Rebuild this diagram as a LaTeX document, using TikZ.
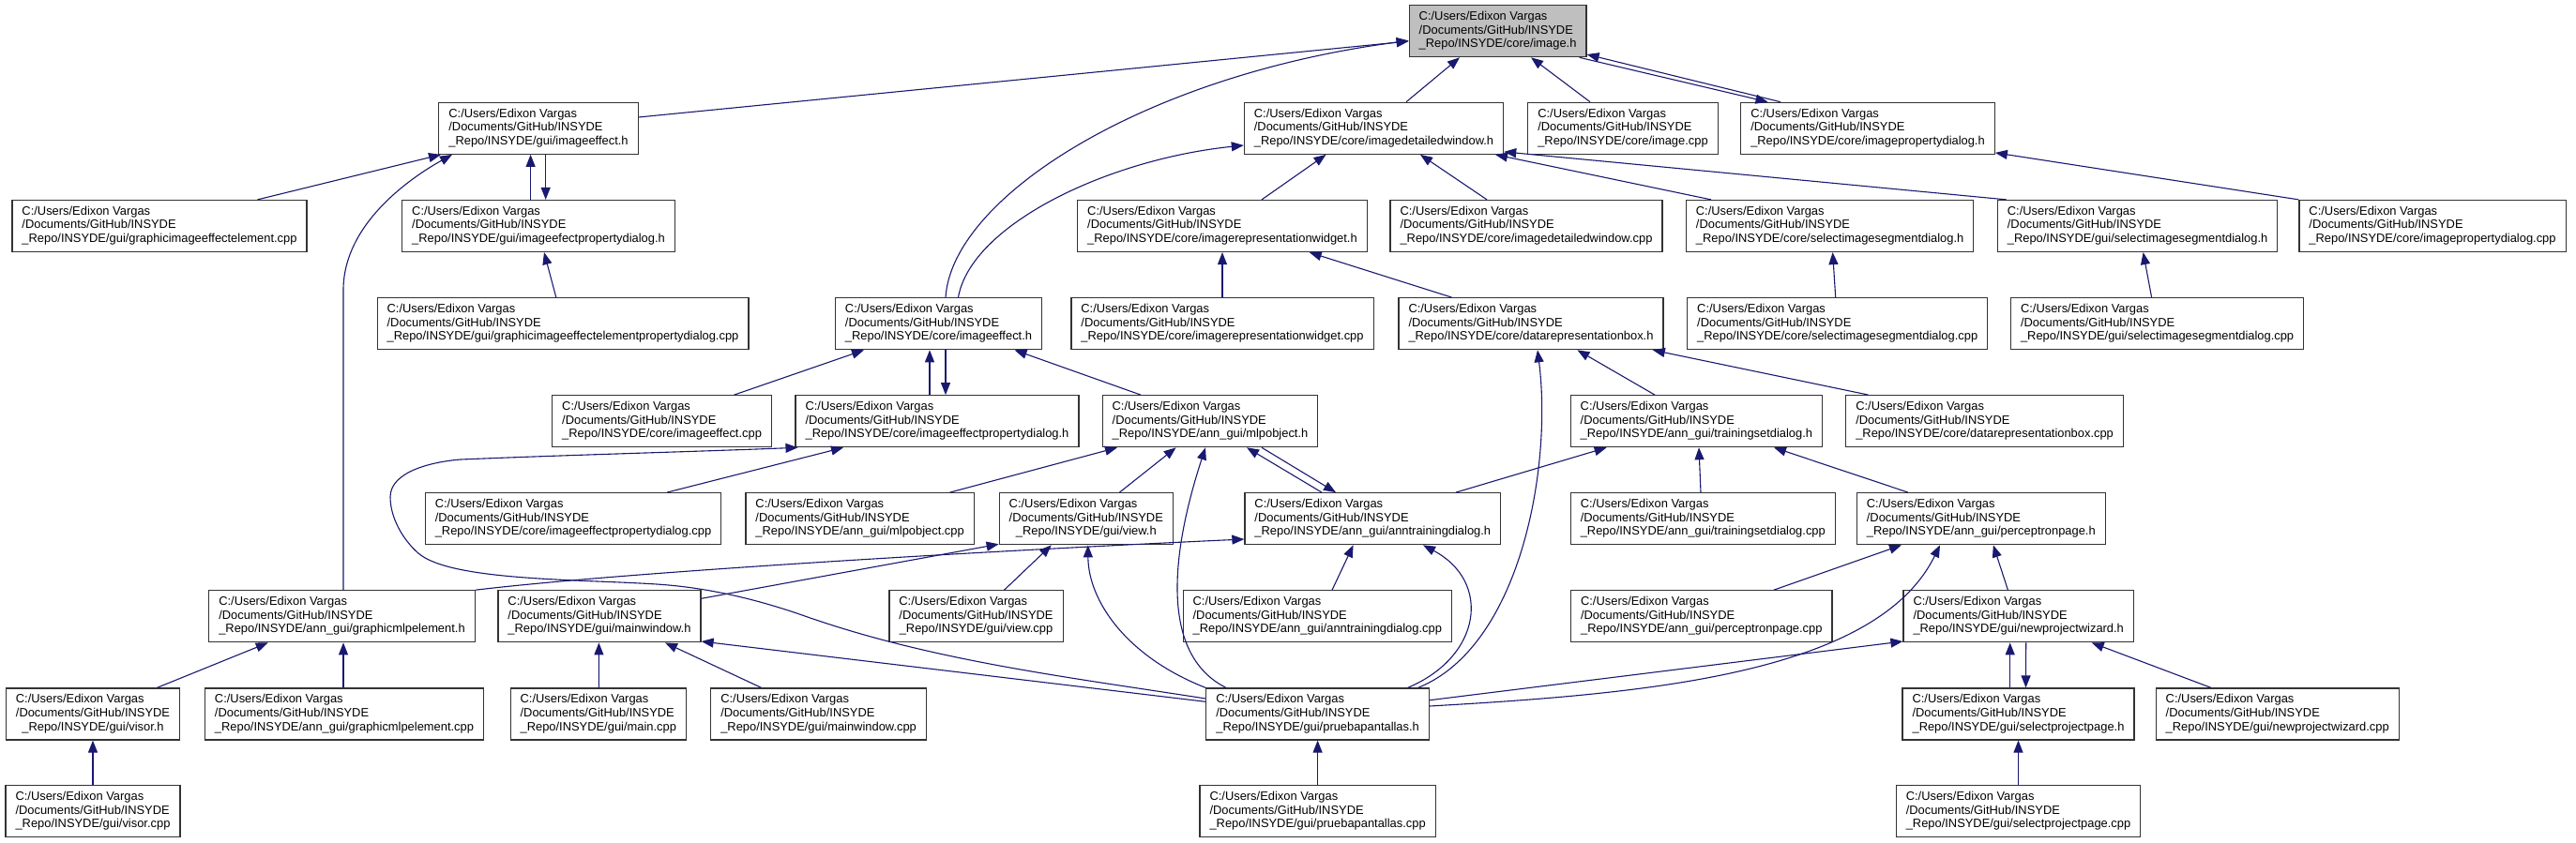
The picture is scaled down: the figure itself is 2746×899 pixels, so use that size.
\documentclass[tikz,border=0pt]{standalone}
\usepackage{fontspec}
\setmainfont{Liberation Sans}
\usetikzlibrary{arrows.meta}
\definecolor{edgeblue}{RGB}{25,25,112}
\definecolor{boxgray}{RGB}{191,191,191}
\newcommand\flab[1]{\begin{tabular}{@{}l@{}}C:/Users/Edixon Vargas\\/Documents/GitHub/INSYDE\\\multicolumn{1}{@{}c@{}}{\_Repo/INSYDE/#1}\end{tabular}}
\begin{document}
\begin{tikzpicture}[x=1pt,y=-1pt,
  fnode/.style={draw=black!80, line width=1.2pt, fill=white, rectangle, inner xsep=10.5pt, inner ysep=0pt, minimum height=55pt, font=\fontsize{12.9}{14.7}\selectfont},
  cur/.style={fnode, fill=boxgray},
  inc/.style={draw=edgeblue, line width=1.1pt, -{Triangle[length=13pt,width=10pt]}}]
\useasboundingbox[fill=white] (0,0) rectangle (2746,899);
% row A
\node[cur] (img) at (1596.6,33.2) {\flab{core/image.h}};
% row B
\node[fnode] (gieh) at (574,136.8) {\flab{gui/imageeffect.h}};
\node[fnode] (idwh) at (1464.5,136.8) {\flab{core/imagedetailedwindow.h}};
\node[fnode] (imgcpp) at (1730,136.8) {\flab{core/image.cpp}};
\node[fnode] (ipdh) at (1991,136.8) {\flab{core/imagepropertydialog.h}};
% row C
\node[fnode] (giee) at (170,241) {\flab{gui/graphicimageeffectelement.cpp}};
\node[fnode] (giepd) at (574,241) {\flab{gui/imageefectpropertydialog.h}};
\node[fnode] (irwh) at (1303,241) {\flab{core/imagerepresentationwidget.h}};
\node[fnode] (idwcpp) at (1627,241) {\flab{core/imagedetailedwindow.cpp}};
\node[fnode] (csisd) at (1950.6,241) {\flab{core/selectimagesegmentdialog.h}};
\node[fnode] (gsisd) at (2278.6,241) {\flab{gui/selectimagesegmentdialog.h}};
\node[fnode] (ipdcpp) at (2593,241) {\flab{core/imagepropertydialog.cpp}};
% row D
\node[fnode] (gieepd) at (600,345.2) {\flab{gui/graphicimageeffectelementpropertydialog.cpp}};
\node[fnode] (cieh) at (1000.5,345.2) {\flab{core/imageeffect.h}};
\node[fnode] (irwcpp) at (1303,345.2) {\flab{core/imagerepresentationwidget.cpp}};
\node[fnode] (drbh) at (1632,345.2) {\flab{core/datarepresentationbox.h}};
\node[fnode] (csisdcpp) at (1958.7,345.2) {\flab{core/selectimagesegmentdialog.cpp}};
\node[fnode] (gsisdcpp) at (2299.6,345.2) {\flab{gui/selectimagesegmentdialog.cpp}};
% row E
\node[fnode] (ciecpp) at (705.6,449.2) {\flab{core/imageeffect.cpp}};
\node[fnode] (ciepdh) at (999,449.2) {\flab{core/imageeffectpropertydialog.h}};
\node[fnode] (mlph) at (1290,449.2) {\flab{ann\_gui/mlpobject.h}};
\node[fnode] (tsdh) at (1808.4,449.2) {\flab{ann\_gui/trainingsetdialog.h}};
\node[fnode] (drbcpp) at (2115.6,449.2) {\flab{core/datarepresentationbox.cpp}};
% row F
\node[fnode] (ciepdcpp) at (611,553.2) {\flab{core/imageeffectpropertydialog.cpp}};
\node[fnode] (mlpcpp) at (916.6,553.2) {\flab{ann\_gui/mlpobject.cpp}};
\node[fnode] (viewh) at (1157.8,553.2) {\flab{gui/view.h}};
\node[fnode] (atdh) at (1463.3,553.2) {\flab{ann\_gui/anntrainingdialog.h}};
\node[fnode] (tsdcpp) at (1815.3,553.2) {\flab{ann\_gui/trainingsetdialog.cpp}};
\node[fnode] (pph) at (2111.8,553.2) {\flab{ann\_gui/perceptronpage.h}};
% row G
\node[fnode] (gmlph) at (364.5,657.3) {\flab{ann\_gui/graphicmlpelement.h}};
\node[fnode] (mwh) at (639,657.3) {\flab{gui/mainwindow.h}};
\node[fnode] (viewcpp) at (1040.5,657.3) {\flab{gui/view.cpp}};
\node[fnode] (atdcpp) at (1404.3,657.3) {\flab{ann\_gui/anntrainingdialog.cpp}};
\node[fnode] (ppcpp) at (1813.8,657.3) {\flab{ann\_gui/perceptronpage.cpp}};
\node[fnode] (npwh) at (2151.7,657.3) {\flab{gui/newprojectwizard.h}};
% row H
\node[fnode] (visorh) at (99,761.5) {\flab{gui/visor.h}};
\node[fnode] (gmlpcpp) at (367,761.5) {\flab{ann\_gui/graphicmlpelement.cpp}};
\node[fnode] (maincpp) at (637.8,761.5) {\flab{gui/main.cpp}};
\node[fnode] (mwcpp) at (872.6,761.5) {\flab{gui/mainwindow.cpp}};
\node[fnode] (pph2) at (1404.6,761.5) {\flab{gui/pruebapantallas.h}};
\node[fnode] (spph) at (2151.5,761.5) {\flab{gui/selectprojectpage.h}};
\node[fnode] (npwcpp) at (2427.7,761.5) {\flab{gui/newprojectwizard.cpp}};
% row I
\node[fnode] (visorcpp) at (99,865.2) {\flab{gui/visor.cpp}};
\node[fnode] (ppcpp2) at (1404.6,865.2) {\flab{gui/pruebapantallas.cpp}};
\node[fnode] (sppcpp) at (2151.5,865.2) {\flab{gui/selectprojectpage.cpp}};

% edges
\draw[inc] ([yshift=11.8pt]gieh.east) -- ([yshift=-10.8pt]img.west);
\draw[inc] ([xshift=7.5pt]cieh.north) .. controls (1015,210) and (1220,80) .. ([yshift=-10.2pt]img.west);
\draw[inc] ([xshift=21pt]cieh.north) .. controls (1035,240) and (1180,170) .. ([yshift=-18.2pt]idwh.west);
\draw[inc] ([xshift=34.5pt]idwh.north) -- ([xshift=-40.6pt]img.south);
\draw[inc] ([xshift=-35pt]imgcpp.north) -- ([xshift=35.4pt]img.south);
\draw[inc] ([xshift=-93pt]ipdh.north) -- ([yshift=-24.8pt]img.east);
\draw[inc] ([xshift=87pt]img.south) -- ([xshift=-106.5pt]ipdh.north);
\draw[inc] ([xshift=104.5pt]giee.north) -- ([xshift=-104pt]gieh.south);
\draw[inc] ([xshift=1.5pt]gmlph.north) -- ++(0,-320) .. controls +(0,-70) and +(-45,25) .. ([xshift=-92pt]gieh.south);
\draw[inc] ([xshift=-8.4pt]giepd.north) -- ([xshift=-8.4pt]gieh.south);
\draw[inc] ([xshift=7.7pt]gieh.south) -- ([xshift=7.7pt]giepd.north);
\draw[inc] ([xshift=-7.2pt]gieepd.north) -- ([xshift=6pt]giepd.south);
\draw[inc] ([xshift=42pt]irwh.north) -- ([xshift=-51pt]idwh.south);
\draw[inc] ([xshift=-42pt]idwcpp.north) -- ([xshift=49.5pt]idwh.south);
\draw[inc] ([xshift=-126.6pt]csisd.north) -- ([xshift=129.5pt]idwh.south);
\draw[inc] ([xshift=10pt]gsisd.north west) -- ([yshift=3pt]idwh.south east);
\draw[inc] (ipdcpp.north west) -- ([yshift=2pt]ipdh.south east);
\draw[inc] (irwcpp.north) -- (irwh.south);
\draw[inc] ([xshift=-84.5pt]drbh.north) -- ([xshift=92.7pt]irwh.south);
\draw[inc] ([xshift=-2pt]csisdcpp.north) -- ([xshift=3pt]csisd.south);
\draw[inc] ([xshift=-6pt]gsisdcpp.north) -- ([xshift=6pt]gsisd.south);
\draw[inc] ([xshift=77pt]ciecpp.north) -- ([xshift=-79.5pt]cieh.south);
\draw[inc] ([xshift=-8pt]ciepdh.north) -- ([xshift=-9.5pt]cieh.south);
\draw[inc] ([xshift=7.5pt]cieh.south) -- ([xshift=9pt]ciepdh.north);
\draw[inc] ([xshift=-74pt]mlph.north) -- ([xshift=81pt]cieh.south);
\draw[inc] ([xshift=100pt]ciepdcpp.north) -- ([xshift=-100pt]ciepdh.south);
\draw[inc] ([yshift=16.5pt]pph2.west) .. controls (1141.7,722.5) and (994.7,705.1) .. (858,657)
  .. controls (807,639) and (754,626.5) .. (700,623)
  .. controls (615.2,617.6) and (480,619.4) .. (446,590)
  .. controls (429.4,575.6) and (416,552) .. (416,530)
  .. controls (416,502) and (463,492.2) .. (491,490)
  .. controls (611,485) and (731,482) .. ([xshift=3pt]ciepdh.south west);
\draw[inc] ([xshift=96pt]mlpcpp.north) -- ([xshift=-99pt]mlph.south);
\draw[inc] ([xshift=35.6pt]viewh.north) -- ([xshift=-36.4pt]mlph.south);
\draw[inc] ([xshift=-97.6pt]pph2.north) .. controls (1240,700) and (1245,600) .. ([xshift=-5pt]mlph.south);
\draw[inc] ([xshift=-54.3pt]atdh.north) -- ([xshift=39pt]mlph.south);
\draw[inc] ([xshift=55pt]mlph.south) -- ([xshift=-39.3pt]atdh.north);
\draw[inc] ([xshift=107pt]pph2.north) .. controls (1620,690) and (1655,500) .. ([xshift=7pt]drbh.south);
\draw[inc] ([xshift=-44.4pt]tsdh.north) -- ([xshift=49.4pt]drbh.south);
\draw[inc] ([xshift=-124pt]drbcpp.north) -- ([xshift=129.8pt]drbh.south);
\draw[inc] ([xshift=88.7pt]atdh.north) -- ([xshift=-95.8pt]tsdh.south);
\draw[inc] ([xshift=-2.3pt]tsdcpp.north) -- ([xshift=2.6pt]tsdh.south);
\draw[inc] ([xshift=-77.8pt]pph.north) -- ([xshift=82.6pt]tsdh.south);
\draw[inc] ([xshift=15.7pt]atdcpp.north) -- ([xshift=-20.7pt]atdh.south);
\draw[inc] ([xshift=96pt]pph2.north) .. controls (1580,700) and (1590,620) .. ([xshift=53.7pt]atdh.south);
\draw[inc] (gmlph.north east) .. controls (650,612) and (1000,590) .. ([yshift=-21.8pt]atdh.west);
\draw[inc] ([yshift=19pt]mwh.east) -- ([yshift=1pt]viewh.south west);
\draw[inc] ([xshift=30pt]viewcpp.north) -- ([xshift=-37pt]viewh.south);
\draw[inc] (pph2.north west) .. controls (1200,700) and (1160,640) .. ([xshift=2pt]viewh.south);
\draw[inc] ([xshift=68.4pt]visorh.north) -- ([xshift=-78.8pt]gmlph.south);
\draw[inc] ([xshift=-1pt]gmlpcpp.north) -- ([xshift=1.5pt]gmlph.south);
\draw[inc] ([xshift=0.6pt]maincpp.north) -- ([xshift=-0.6pt]mwh.south);
\draw[inc] ([xshift=-61pt]mwcpp.north) -- ([xshift=70pt]mwh.south);
\draw[inc] ([yshift=13.2pt]pph2.west) -- ([yshift=1.4pt]mwh.south east);
\draw[inc] ([yshift=14.8pt]pph2.east) -- ([yshift=1.4pt]npwh.south west);
\draw[inc] ([yshift=8.5pt]pph2.east) .. controls (1750,740) and (2000,720) .. ([xshift=-43.8pt]pph.south);
\draw[inc] ([xshift=77pt]ppcpp.north) -- ([xshift=-84.8pt]pph.south);
\draw[inc] ([xshift=-11.3pt]npwh.north) -- ([xshift=13pt]pph.south);
\draw[inc] ([xshift=-8.8pt]spph.north) -- ([xshift=-9pt]npwh.south);
\draw[inc] ([xshift=8pt]npwh.south) -- ([xshift=8pt]spph.north);
\draw[inc] ([xshift=-70.7pt]npwcpp.north) -- ([xshift=78pt]npwh.south);
\draw[inc] (visorcpp.north) -- (visorh.south);
\draw[inc] (ppcpp2.north) -- (pph2.south);
\draw[inc] (sppcpp.north) -- (spph.south);
\end{tikzpicture}
\end{document}
